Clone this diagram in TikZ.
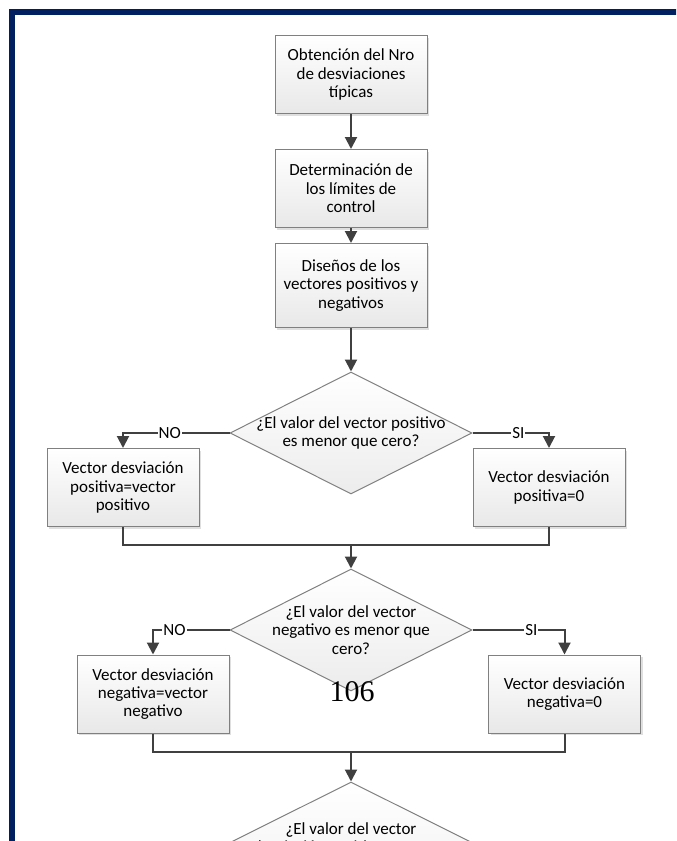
\documentclass[tikz,border=0pt]{standalone}
\usepackage{fontspec}
\setmainfont{Carlito}
\newfontfamily\pagefont{Liberation Serif}
\usepackage{tikz}
\usetikzlibrary{positioning,arrows.meta,shapes.geometric,shadows}
\definecolor{marco}{RGB}{0,32,96}
\definecolor{borde}{RGB}{128,128,128}
\definecolor{flechagris}{RGB}{64,64,64}

\begin{document}
\begin{tikzpicture}[x=0.5pt,y=-0.5pt,
  proceso/.style={draw=borde,line width=0.5pt,top color=white,bottom color=gray!18,
    minimum width=76pt,minimum height=39pt,align=center,font=\fontsize{8.5}{9.2}\selectfont,
    drop shadow={shadow xshift=1pt,shadow yshift=-1pt,opacity=0.25}},
  decision/.style={diamond,draw=borde,line width=0.5pt,top color=white,bottom color=gray!15,
    minimum width=121pt,minimum height=61pt,inner sep=0pt},
  texto/.style={align=center,font=\fontsize{8.5}{9.2}\selectfont},
  flecha/.style={draw=flechagris,line width=1pt,-{Triangle[length=6pt,width=6pt]}},
  linea/.style={draw=flechagris,line width=1pt},
  rotulo/.style={fill=white,inner sep=0.5pt,font=\fontsize{8.5}{9}\selectfont}]
\useasboundingbox (0,0) rectangle (676,841);
\clip (0,0) rectangle (676,841);
% page frame
\draw[marco,line width=3pt] (12,12) rectangle (720,900);
% main column
\node[proceso] (b1) at (351,74.5) {Obtención del Nro\\de desviaciones\\típicas};
\node[proceso] (b2) at (351,188.5) {Determinación de\\los límites de\\control};
\node[proceso,minimum height=42pt] (b3) at (351,285.5) {Diseños de los\\vectores positivos y\\negativos};
\node[decision,label={[texto]center:{¿El valor del vector positivo\\es menor que cero?}}] (d1) at (351,433) {};
\node[proceso] (b4) at (123,487.5) {Vector desviación\\positiva=vector\\positivo};
\node[proceso] (b5) at (549,487.5) {Vector desviación\\positiva=0};
\coordinate (m1) at (351,545);
\node[decision,label={[texto]center:{¿El valor del vector\\negativo es menor que\\cero?}}] (d2) at (351,630) {};
\node[proceso] (b6) at (153,694) {Vector desviación\\negativa=vector\\negativo};
\node[proceso] (b7) at (564.5,694) {Vector desviación\\negativa=0};
\coordinate (m2) at (351,752);
\node[decision,minimum width=150pt,minimum height=75pt,
  label={[texto,yshift=9pt]center:{¿El valor del vector\\desviación positiva es mayor}}] (d3) at (351,857) {};
% page number over the chart
\node[font=\pagefont\fontsize{15}{15}\selectfont] (pag) at (352,692) {106};
% connectors
\draw[flecha] (b1) -- (b2);
\draw[flecha] (b2) -- (b3);
\draw[flecha] (b3) -- (d1);
\draw[flecha] (d1.west) -| node[rotulo,pos=0.28] {NO} (b4.north);
\draw[flecha] (d1.east) -| node[rotulo,pos=0.3] {SI} (b5.north);
\draw[linea] (b4.south) |- (m1) -| (b5.south);
\draw[flecha] (m1) -- (d2);
\draw[flecha] (d2.west) -| node[rotulo,pos=0.36] {NO} (b6.north);
\draw[flecha] (d2.east) -| node[rotulo,pos=0.32] {SI} (b7.north);
\draw[linea] (b6.south) |- (m2) -| (b7.south);
\draw[flecha] (m2) -- (d3);
\end{tikzpicture}
\end{document}
